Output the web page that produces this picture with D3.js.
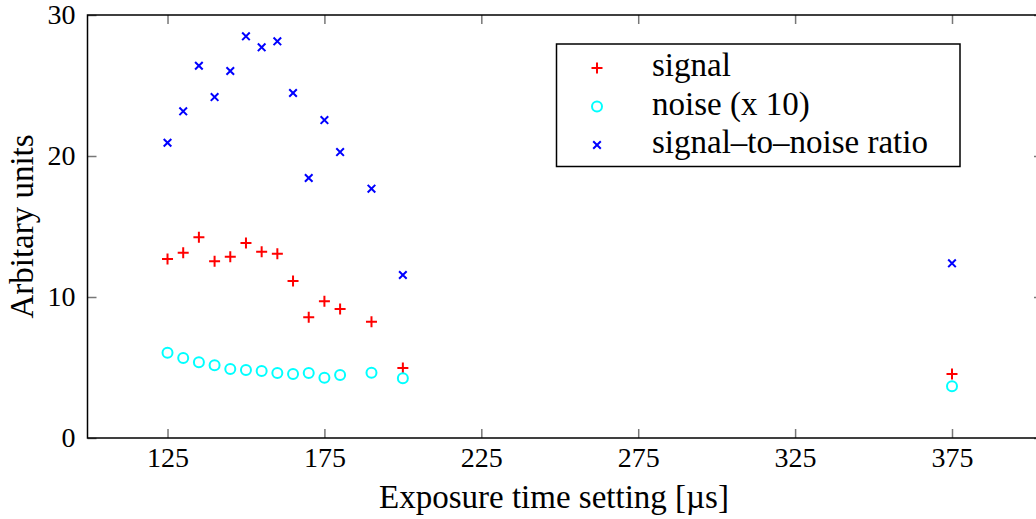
<!DOCTYPE html>
<html>
<head>
<meta charset="utf-8">
<script src="https://cdn.jsdelivr.net/npm/d3@7"></script>
<style>
  html, body { margin: 0; padding: 0; background: #fff; }
  svg { display: block; font-family: "Liberation Serif", "DejaVu Serif", serif; }
</style>
</head>
<body>
<div id="chart"></div>
<script>
// Data
const exposure = [125, 130, 135, 140, 145, 150, 155, 160, 165, 170, 175, 180, 190, 200, 375];
const signal = [12.7, 13.14, 14.23, 12.53, 12.86, 13.83, 13.21, 13.07, 11.13, 8.56, 9.69, 9.15, 8.25, 4.96, 4.54];
const noiseX10 = [6.05, 5.67, 5.37, 5.16, 4.89, 4.82, 4.75, 4.61, 4.54, 4.61, 4.28, 4.47, 4.63, 4.23, 3.67];
const snr = [20.94, 23.17, 26.4, 24.18, 26.03, 28.49, 27.71, 28.13, 24.47, 18.44, 22.55, 20.28, 17.68, 11.56, 12.39];
const xTickValues = [125, 175, 225, 275, 325, 375];
const yTickValues = [0, 10, 20, 30];
const legendLabels = ["signal", "noise (x 10)", "signal\u2013to\u2013noise ratio"];

// Chart dimensions
const width = 1036;
const height = 519;
const plotLeft = 87.5;
const plotRight = 1043;
const plotTop = 15;
const plotBottom = 438;
const tickLen = 9;

const svg = d3.select("#chart")
  .append("svg")
  .attr("width", width)
  .attr("height", height)
  .attr("viewBox", [0, 0, width, height]);

const x = d3.scaleLinear()
  .domain([99.5, 404])
  .range([plotLeft, plotRight]);

const y = d3.scaleLinear()
  .domain([0, 30])
  .range([plotBottom, plotTop]);

// Ticks (inside, on all four sides)
function styleAxis(g) {
  g.select(".domain").remove();
  g.selectAll(".tick line").attr("stroke", "#777").attr("stroke-width", 1.5);
  g.selectAll(".tick text")
    .attr("fill", "#000")
    .style("font-size", "28px")
    .style("font-family", "Liberation Serif, serif");
}

svg.append("g")
  .attr("transform", `translate(0,${plotBottom})`)
  .call(d3.axisBottom(x).tickValues(xTickValues).tickSize(-tickLen).tickPadding(9))
  .call(styleAxis);

svg.append("g")
  .attr("transform", `translate(0,${plotTop})`)
  .call(d3.axisTop(x).tickValues(xTickValues).tickSize(-tickLen).tickFormat(""))
  .call(styleAxis);

svg.append("g")
  .attr("transform", `translate(${plotLeft},0)`)
  .call(d3.axisLeft(y).tickValues(yTickValues).tickSize(-tickLen).tickPadding(12))
  .call(styleAxis);

svg.append("g")
  .attr("transform", `translate(${plotRight},0)`)
  .call(d3.axisRight(y).tickValues(yTickValues).tickSize(-tickLen).tickFormat(""))
  .call(styleAxis);

// Frame
svg.append("rect")
  .attr("x", plotLeft)
  .attr("y", plotTop)
  .attr("width", plotRight - plotLeft)
  .attr("height", plotBottom - plotTop)
  .attr("fill", "none")
  .attr("stroke", "#000")
  .attr("stroke-width", 1.5);

// Markers
const pts = exposure.map((e, i) => ({ e, s: signal[i], n: noiseX10[i], r: snr[i] }));

function plus(sel, cx, cy, h, color) {
  sel.append("path")
    .attr("d", `M${cx - h},${cy}H${cx + h}M${cx},${cy - h}V${cy + h}`)
    .attr("stroke", color).attr("stroke-width", 2).attr("fill", "none");
}
function cross(sel, cx, cy, h, color) {
  sel.append("path")
    .attr("d", `M${cx - h},${cy - h}L${cx + h},${cy + h}M${cx - h},${cy + h}L${cx + h},${cy - h}`)
    .attr("stroke", color).attr("stroke-width", 2).attr("fill", "none");
}
function circle(sel, cx, cy, r, color) {
  sel.append("circle")
    .attr("cx", cx).attr("cy", cy).attr("r", r)
    .attr("stroke", color).attr("stroke-width", 2).attr("fill", "none");
}

const marks = svg.append("g");
pts.forEach(d => plus(marks, x(d.e), y(d.s), 5.5, "#ff0000"));
pts.forEach(d => circle(marks, x(d.e), y(d.n), 5, "#00ffff"));
pts.forEach(d => cross(marks, x(d.e), y(d.r), 3.8, "#0000ff"));

// Legend
const legend = svg.append("g");
legend.append("rect")
  .attr("x", 556.5).attr("y", 44)
  .attr("width", 403.5).attr("height", 122.5)
  .attr("fill", "#fff").attr("stroke", "#000").attr("stroke-width", 1.5);

const rowY = [68, 106.5, 145];
const markerX = 597;
plus(legend, markerX, rowY[0], 5.5, "#ff0000");
circle(legend, markerX, rowY[1], 5, "#00ffff");
cross(legend, markerX, rowY[2], 3.8, "#0000ff");

legend.selectAll("text")
  .data(legendLabels)
  .join("text")
  .attr("x", 652)
  .attr("y", (d, i) => rowY[i] + 8)
  .style("font-size", "33px")
  .text(d => d);

// Axis labels
svg.append("text")
  .attr("x", 554)
  .attr("y", 508)
  .attr("text-anchor", "middle")
  .style("font-size", "33px")
  .text("Exposure time setting [\u00b5s]");

svg.append("text")
  .attr("transform", `translate(33,${(plotTop + plotBottom) / 2}) rotate(-90)`)
  .attr("text-anchor", "middle")
  .style("font-size", "33px")
  .text("Arbitary units");
</script>
</body>
</html>
